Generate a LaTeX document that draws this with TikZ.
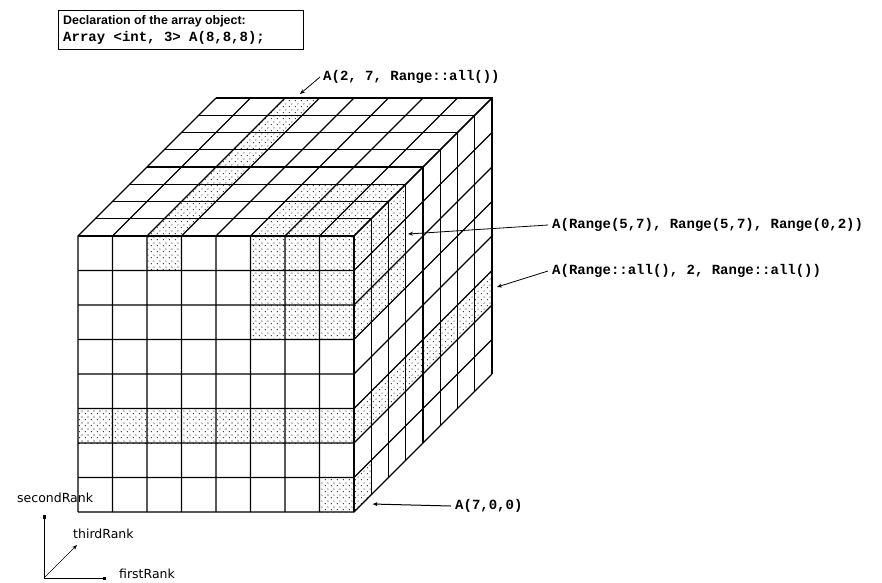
\documentclass[tikz,border=0pt]{standalone}
\usepackage{fontspec}
\setmainfont{DejaVu Sans}
\newfontfamily\codefont{Liberation Mono}
\newfontfamily\headfont{Liberation Sans}
\usetikzlibrary{arrows.meta,patterns}
\pgfdeclarepatternformonly{sparsedots}{\pgfqpoint{0pt}{0pt}}{\pgfqpoint{6pt}{6pt}}{\pgfqpoint{6pt}{6pt}}{%
  \pgfpathcircle{\pgfqpoint{1.5pt}{1.5pt}}{0.65pt}%
  \pgfpathcircle{\pgfqpoint{4.5pt}{4.5pt}}{0.65pt}%
  \pgfusepath{fill}}
\tikzset{
  gridline/.style={line width=1.1pt},
  dotfill/.style={pattern=sparsedots},
  code/.style={font=\codefont\bfseries\fontsize{14}{16}\selectfont, inner sep=0pt, anchor=west},
  axislabel/.style={font=\fontsize{12.5}{14}\selectfont, inner sep=0pt, anchor=west},
  pointer/.style={line width=0.8pt, -{Stealth[length=5pt,width=4pt]}},
  axisline/.style={line width=1pt},
}
\newcommand\frontcell[2]{\fill[dotfill] (#1,#2,0) -- ++(1,0,0) -- ++(0,1,0) -- ++(-1,0,0) -- cycle;}
\newcommand\topcell[2]{\fill[dotfill] (#1,8,#2) -- ++(1,0,0) -- ++(0,0,1) -- ++(-1,0,0) -- cycle;}
\newcommand\rightcell[2]{\fill[dotfill] (8,#1,#2) -- ++(0,1,0) -- ++(0,0,1) -- ++(0,-1,0) -- cycle;}
\begin{document}
\begin{tikzpicture}[x=1pt,y=-1pt]
\fill[white] (0,0) rectangle (882,582);
\useasboundingbox (0,0) rectangle (882,582);

% declaration box
\node[draw, line width=1.2pt, minimum width=245pt, minimum height=39pt, anchor=north west, inner sep=0pt] (box) at (58,10) {};
\node[font=\headfont\bfseries\fontsize{12.4}{14}\selectfont, anchor=west, inner sep=0pt] (decl) at (63,21) {Declaration of the array object:};
\node[code] (arr) at (63,38) {Array <int, 3> A(8,8,8);};

% cube
\begin{scope}[shift={(78pt,-512pt)}, x={(34.5pt,0pt)}, y={(0pt,34.5pt)}, z={(17.25pt,17.25pt)}]
  % front face shading
  \frontcell{2}{7}
  \foreach \a in {5,6,7}{\foreach \b in {5,6,7}{\frontcell{\a}{\b}}}
  \foreach \a in {0,...,7}{\frontcell{\a}{2}}
  \frontcell{7}{0}
  % top face shading
  \foreach \c in {0,...,7}{\topcell{2}{\c}}
  \foreach \a in {5,6,7}{\foreach \c in {0,1,2}{\topcell{\a}{\c}}}
  % right face shading
  \foreach \b in {5,6,7}{\foreach \c in {0,1,2}{\rightcell{\b}{\c}}}
  \foreach \c in {0,...,7}{\rightcell{2}{\c}}
  \rightcell{0}{0}
  % grid
  \foreach \i in {0,...,8}{
    \draw[gridline] (\i,0,0) -- (\i,8,0) -- (\i,8,8);
    \draw[gridline] (0,\i,0) -- (8,\i,0) -- (8,\i,8);
    \draw[gridline] (0,8,\i) -- (8,8,\i) -- (8,0,\i);
  }
\end{scope}

% labels and pointers
\node[code] (l1) at (323,77) {A(2, 7, Range::all())};
\coordinate (t1) at (300,94);
\draw[pointer] ([xshift=-3pt]l1.west) -- (t1);

\node[code] (l2) at (552,225) {A(Range(5,7), Range(5,7), Range(0,2))};
\coordinate (t2) at (408,234);
\draw[pointer] ([xshift=-4pt]l2.west) -- (t2);

\node[code] (l3) at (552,271) {A(Range::all(), 2, Range::all())};
\coordinate (t3) at (497,287);
\draw[pointer] ([xshift=-4pt]l3.west) -- (t3);

\node[code] (l4) at (455,506) {A(7,0,0)};
\coordinate (t4) at (372,504);
\draw[line width=1pt, -{Latex[length=5pt,width=4pt]}] ([xshift=-4pt]l4.west) -- (t4);

% axes
\coordinate (o) at (44,578);
\coordinate (ay) at (44,515);
\coordinate (ax) at (106,578);
\coordinate (az) at (77,545);
\draw[axisline, -{Square[length=4pt,width=3pt]}] (o) -- (ay);
\draw[axisline, -{Square[length=3pt,width=3pt]}] (o) -- (ax);
\draw[line width=0.6pt, -{Stealth[length=5pt,width=4pt]}] (o) -- (az);
\node[axislabel] (ly) at (17,498) {secondRank};
\node[axislabel] (lz) at (73,534) {thirdRank};
\node[axislabel] (lx) at (119,574) {firstRank};
\end{tikzpicture}
\end{document}
